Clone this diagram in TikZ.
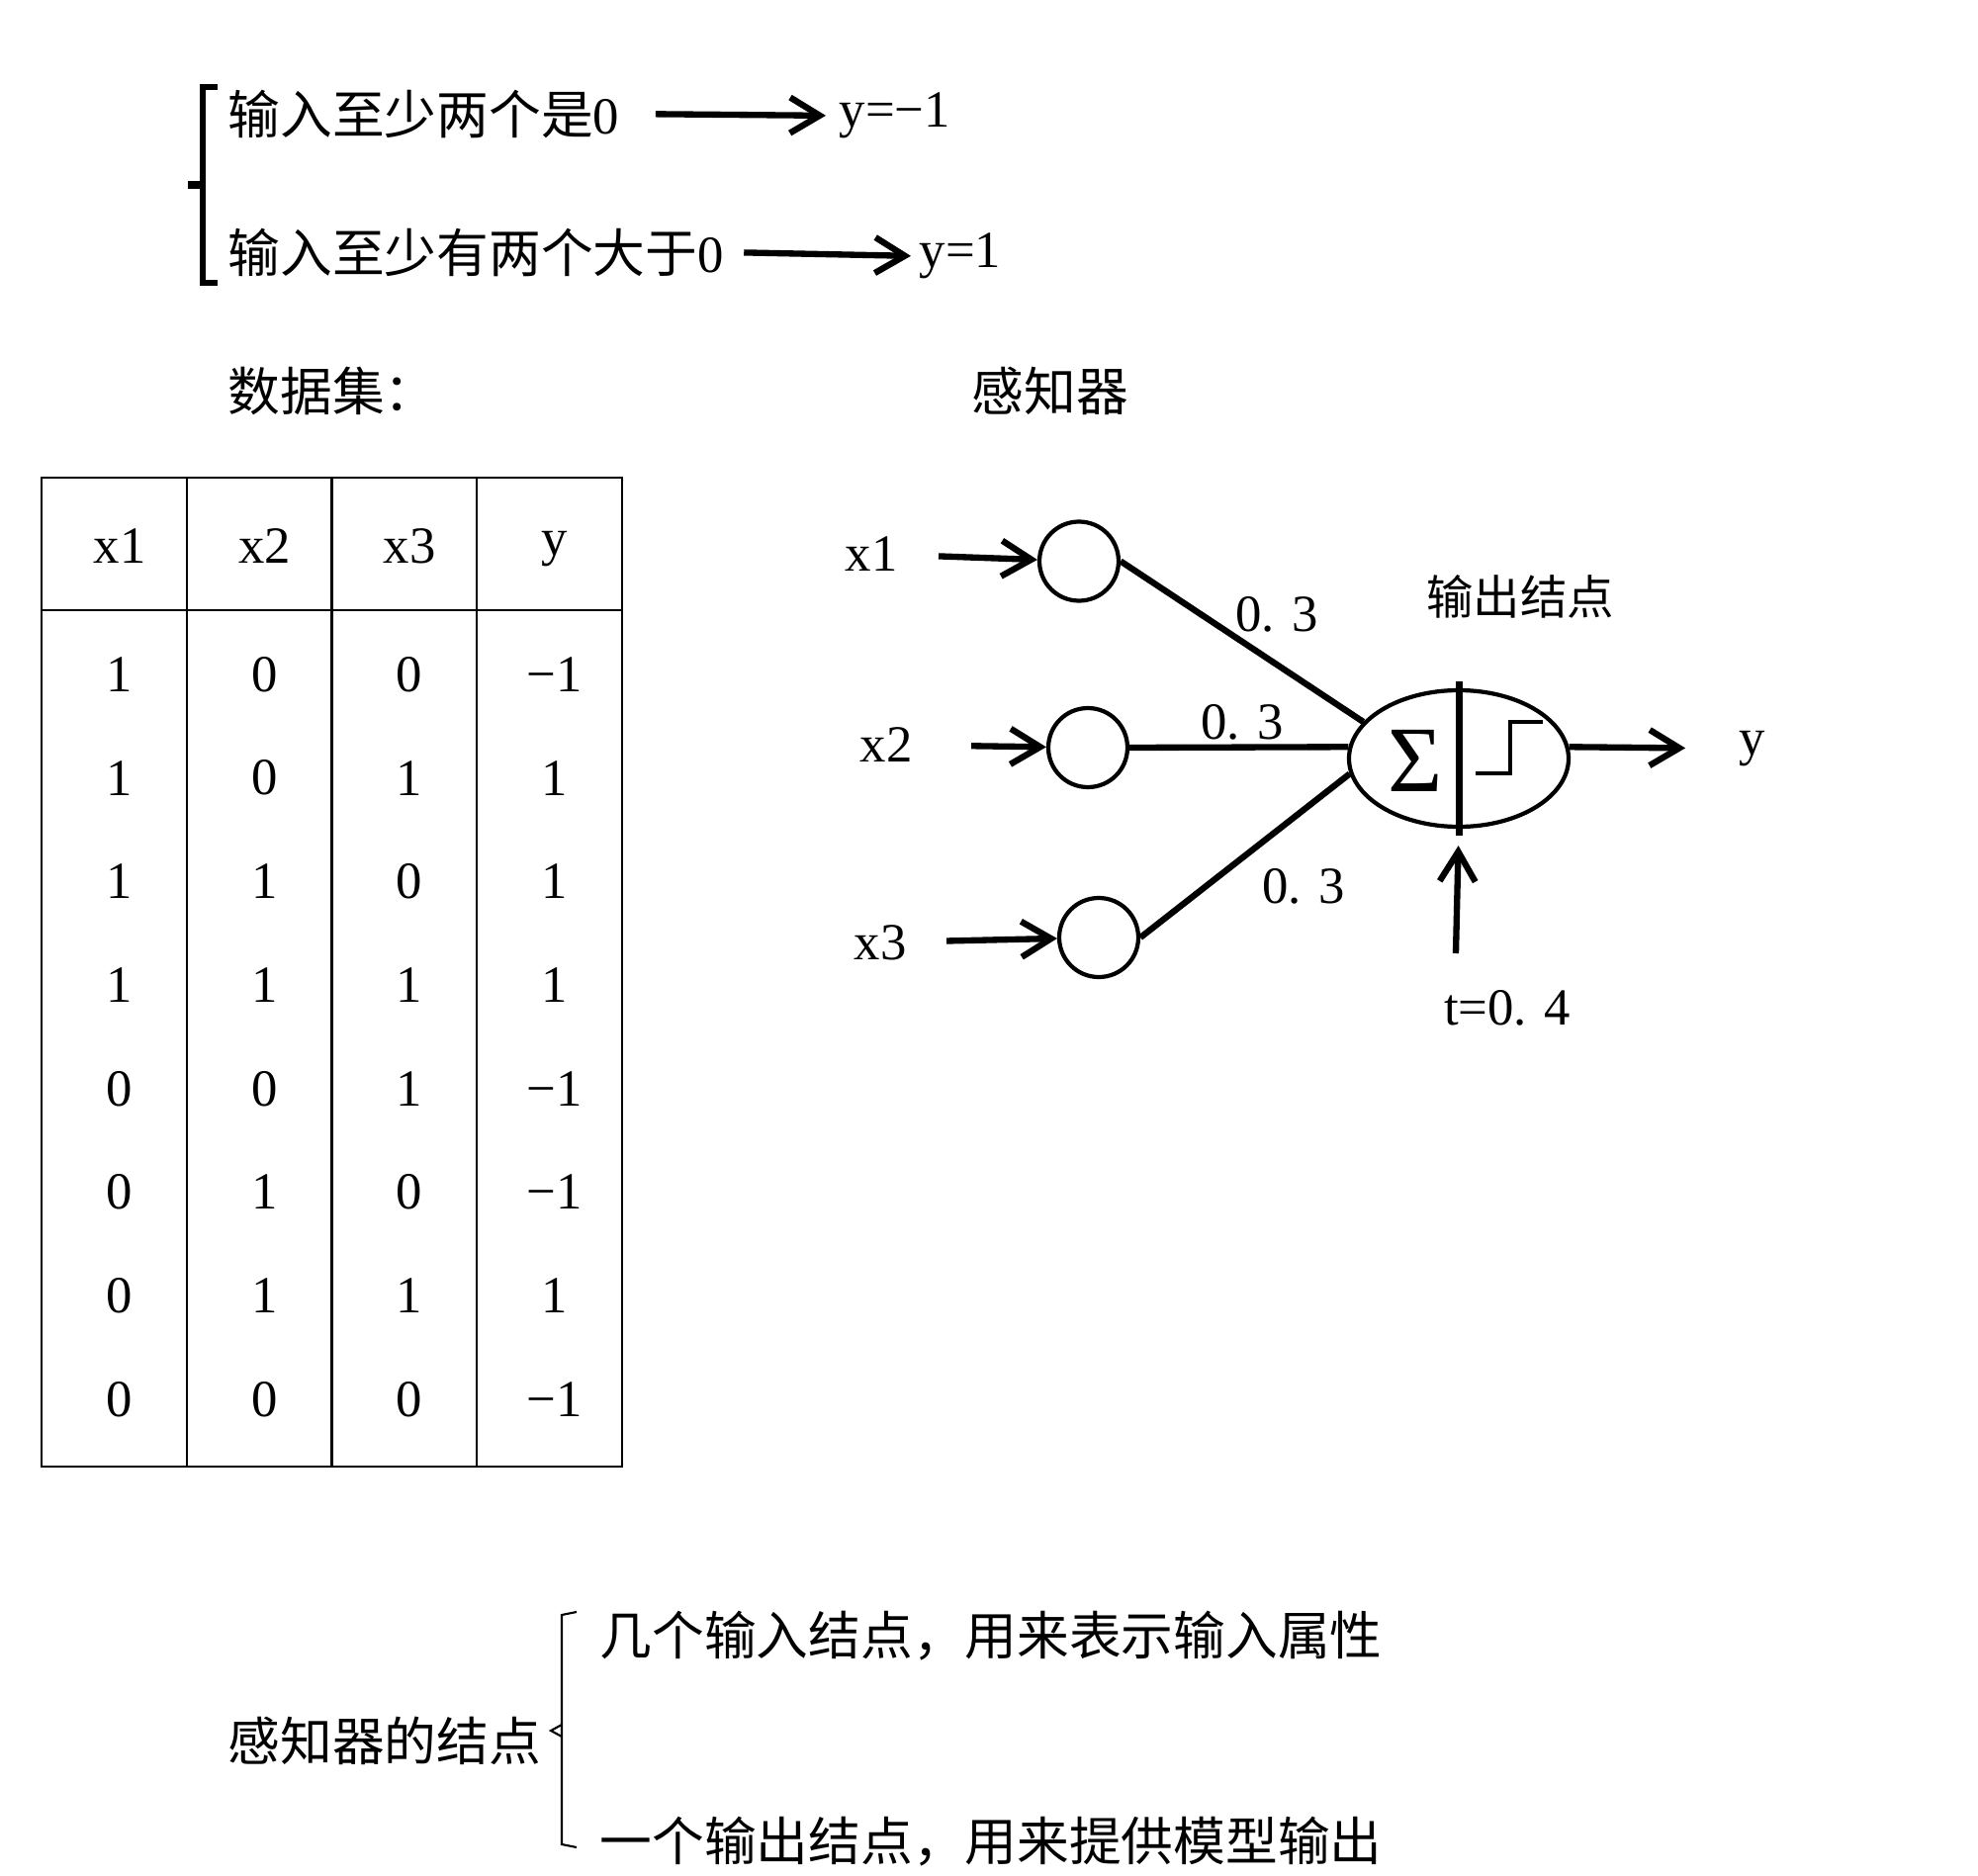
\documentclass[tikz,border=0pt]{standalone}
\usepackage{fontspec}
\setmainfont{Liberation Serif}
\newfontfamily\cjk{Noto Sans CJK SC}
\usetikzlibrary{arrows.meta,shapes.geometric}

\begin{document}
\begin{tikzpicture}[font=\fontsize{15}{18}\selectfont,
    >={Straight Barb[length=3mm,width=3.6mm]},
    every node/.style={inner sep=0pt},
    freccia/.style={->, line width=1.8pt},
    ramo/.style={line width=1.8pt},
    neurone/.style={circle, draw, line width=1.2pt, minimum size=0.8cm}]

        \useasboundingbox (0,0) rectangle (20,-18.97);

        % ==========================================
        % 1. Regola (due casi)
        % ==========================================
        \draw[line width=1.6pt] (2.2,-0.88) -- (2.05,-0.88) -- (2.05,-2.86) -- (2.2,-2.86);
        \draw[line width=2.4pt] (2.05,-1.87) -- (1.9,-1.87);

        \node[anchor=west] (cond1) at (2.3,-1.15) {{\cjk 输入至少两个是}0};
        \node[anchor=west] (out1) at (8.48,-1.17) {y=−1};
        \draw[freccia, shorten <=0.36cm, shorten >=0.13cm] (cond1.east) -- (out1.west);

        \node[anchor=west] (cond2) at (2.3,-2.55) {{\cjk 输入至少有两个大于}0};
        \node[anchor=west] (out2) at (9.29,-2.59) {y=1};
        \draw[freccia, shorten <=0.2cm, shorten >=0.08cm] (cond2.east) -- (out2.west);

        \node[anchor=west] (dati) at (2.3,-3.95) {\cjk 数据集：};
        \node[anchor=west] (perc) at (9.82,-3.95) {\cjk 感知器};

        % ==========================================
        % 2. Tabella del data set
        % ==========================================
        \draw[line width=0.8pt] (0.42,-4.83) rectangle (6.29,-14.83);
        \draw[line width=0.8pt] (0.42,-6.17) -- (6.29,-6.17);
        \draw[line width=0.8pt] (1.89,-4.83) -- (1.89,-14.83)
            (3.355,-4.83) -- (3.355,-14.83) (4.82,-4.83) -- (4.82,-14.83);

        \node (hx1) at (1.21,-5.52) {x1};
        \node (hx2) at (2.675,-5.52) {x2};
        \node (hx3) at (4.14,-5.52) {x3};
        \node (hy) at (5.61,-5.55) {y};

        \foreach \a/\b/\c/\d [count=\i from 0] in
            {1/0/0/−1, 1/0/1/1, 1/1/0/1, 1/1/1/1, 0/0/1/−1, 0/1/0/−1, 0/1/1/1, 0/0/0/−1} {
            \node (a\i) at (1.21,{-6.82-1.047*\i}) {\a};
            \node (b\i) at (2.675,{-6.82-1.047*\i}) {\b};
            \node (c\i) at (4.14,{-6.82-1.047*\i}) {\c};
            \node (d\i) at (5.61,{-6.82-1.047*\i}) {\d};
        }

        % ==========================================
        % 3. Percettrone
        % ==========================================
        \node (lx1) at (8.81,-5.60) {x1};
        \node (lx2) at (8.96,-7.53) {x2};
        \node (lx3) at (8.90,-9.53) {x3};

        \node[neurone] (n1) at (10.91,-5.675) {};
        \node[neurone] (n2) at (11.00,-7.56) {};
        \node[neurone] (n3) at (11.11,-9.48) {};

        \draw[freccia, shorten <=0.41cm] (lx1) -- (n1);
        \draw[freccia, shorten <=0.59cm] (lx2) -- (n2);
        \draw[freccia, shorten <=0.40cm] (lx3) -- (n3);

        \node[ellipse, draw, line width=1.2pt, minimum width=2.22cm, minimum height=1.38cm]
            (somma) at (14.75,-7.67) {};
        \draw[line width=2pt] ([yshift=0.07cm]somma.north) -- ([yshift=-0.07cm]somma.south);
        \node[font=\fontsize{27}{27}\selectfont] (sigma) at (14.31,-7.69) {Σ};
        \draw[line width=1pt] (14.92,-7.82) -- (15.27,-7.82) -- (15.27,-7.30) -- (15.60,-7.30);

        \draw[ramo] (n1.east) -- (somma.159);
        \draw[ramo] (n2.east) -- (somma.174);
        \draw[ramo] (n3.east) -- (somma.188);

        \node (w1) at (12.91,-6.21) {0. 3};
        \node (w2) at (12.56,-7.30) {0. 3};
        \node (w3) at (13.18,-8.96) {0. 3};

        \node[font=\cjk\fontsize{13.5}{16}\selectfont] (uscita) at (15.37,-6.03) {输出结点};

        \node (yout) at (17.72,-7.57) {y};
        \draw[freccia, shorten >=0.54cm] (somma.6) -- (yout.west);

        \coordinate (soglia) at (14.72,-9.64);
        \node (tlab) at (15.24,-10.19) {t=0. 4};
        \draw[freccia, shorten >=0.17cm] (soglia) -- (somma.south);

        % ==========================================
        % 4. Nodi del percettrone
        % ==========================================
        \node[anchor=west] (nodi) at (2.3,-17.60) {\cjk 感知器的结点};
        \draw[line width=0.6pt] (5.83,-16.30) -- (5.68,-16.33) -- (5.68,-18.65) -- (5.83,-18.68);
        \draw[line width=0.6pt] (5.68,-17.44) -- (5.57,-17.50) -- (5.68,-17.56);
        \node[anchor=west] (ingr) at (6.06,-16.54) {\cjk 几个输入结点，用来表示输入属性};
        \node[anchor=west] (usc) at (6.06,-18.62) {\cjk 一个输出结点，用来提供模型输出};

    \end{tikzpicture}
\end{document}
